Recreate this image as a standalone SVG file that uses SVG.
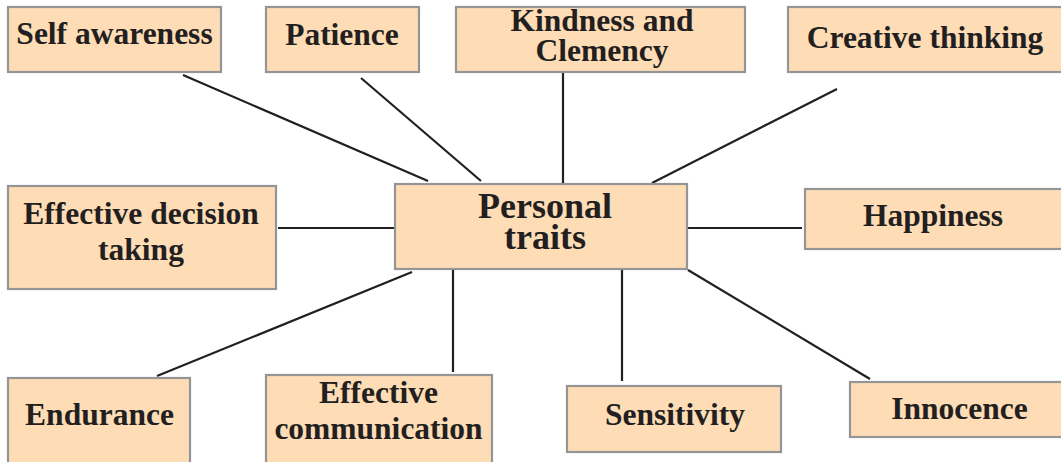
<svg xmlns="http://www.w3.org/2000/svg" width="1061" height="462" viewBox="0 0 1061 462">
<style>
.box{fill:#FDDCB6;stroke:#959595;stroke-width:2.2}
.t{font-family:'Liberation Serif','Times New Roman',Times,'DejaVu Serif',serif;font-weight:700;font-size:31.5px;fill:#231F20;text-anchor:middle}
.big{font-size:36px}
.c line{stroke:#231F20;stroke-width:2.2}
</style>
<rect width="1061" height="462" fill="#fff"/>
<g class="c" id="connectors">
<line x1="183" y1="75" x2="428" y2="181"/>
<line x1="361" y1="78" x2="481" y2="181"/>
<line x1="563" y1="73" x2="563" y2="183"/>
<line x1="837" y1="89" x2="652" y2="183"/>
<line x1="278" y1="228" x2="394" y2="228"/>
<line x1="688" y1="228" x2="802" y2="228"/>
<line x1="157" y1="376" x2="412" y2="272"/>
<line x1="453" y1="270" x2="453" y2="372"/>
<line x1="622" y1="270" x2="622" y2="381"/>
<line x1="688" y1="270" x2="870" y2="379"/>
</g>
<g id="self-awareness"><rect class="box" x="8" y="7" width="213" height="65"/><text class="t" x="114.5" y="44" font-family="Liberation Serif">Self awareness</text></g>
<g id="patience"><rect class="box" x="266" y="7" width="153" height="65"/><text class="t" x="342" y="45">Patience</text></g>
<g id="kindness"><rect class="box" x="456" y="7" width="289" height="65"/><text class="t" x="602" y="31">Kindness and</text><text class="t" x="602" y="61">Clemency</text></g>
<g id="creative"><rect class="box" x="788" y="7" width="280" height="65"/><text class="t" x="925" y="48">Creative thinking</text></g>
<g id="personal"><rect class="box" x="395" y="184" width="292" height="85"/><text class="t big" x="545" y="218">Personal</text><text class="t big" x="545" y="249">traits</text></g>
<g id="decision"><rect class="box" x="8" y="186" width="268" height="103"/><text class="t" x="141" y="224">Effective decision</text><text class="t" x="141" y="260">taking</text></g>
<g id="happiness"><rect class="box" x="805" y="189" width="262" height="60"/><text class="t" x="933" y="226">Happiness</text></g>
<g id="endurance"><rect class="box" x="8" y="378" width="182" height="95"/><text class="t" x="99.5" y="425">Endurance</text></g>
<g id="communication"><rect class="box" x="266" y="375" width="226" height="98"/><text class="t" x="378.5" y="403">Effective</text><text class="t" x="378.5" y="439">communication</text></g>
<g id="sensitivity"><rect class="box" x="567" y="386" width="214" height="66"/><text class="t" x="675" y="425">Sensitivity</text></g>
<g id="innocence"><rect class="box" x="850" y="382" width="218" height="55"/><text class="t" x="959.5" y="419">Innocence</text></g>
</svg>
